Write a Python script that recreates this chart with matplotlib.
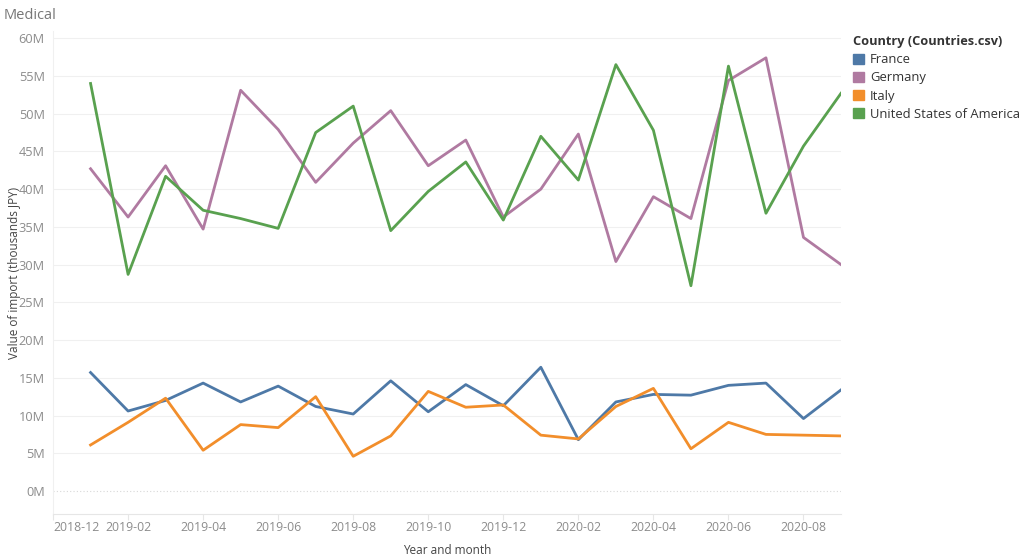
import matplotlib.pyplot as plt
from matplotlib.patches import Patch
from matplotlib.ticker import FuncFormatter

plt.rcParams['font.family'] = ['Open Sans', 'DejaVu Sans']

# months 2019-01 .. 2020-09, index 0 is 2018-12
months = list(range(1, 22))
tick_pos = list(range(0, 21, 2))
tick_labels = ["2018-12", "2019-02", "2019-04", "2019-06", "2019-08", "2019-10",
               "2019-12", "2020-02", "2020-04", "2020-06", "2020-08"]

countries = ["France", "Germany", "Italy", "United States of America"]
colors = ["#4e79a7", "#b07aa1", "#f28e2b", "#59a14f"]

france = [15.7, 10.6, 12.0, 14.3, 11.8, 13.9, 11.2, 10.2, 14.6, 10.5, 14.1,
          11.3, 16.4, 6.8, 11.8, 12.8, 12.7, 14.0, 14.3, 9.6, 13.4]
germany = [42.7, 36.3, 43.1, 34.7, 53.1, 47.9, 40.9, 46.1, 50.4, 43.1, 46.5,
           36.3, 40.0, 47.3, 30.4, 39.0, 36.1, 54.4, 57.4, 33.6, 30.0]
italy = [6.1, 9.1, 12.3, 5.4, 8.8, 8.4, 12.5, 4.6, 7.3, 13.2, 11.1,
         11.4, 7.4, 6.9, 11.2, 13.6, 5.6, 9.1, 7.5, 7.4, 7.3]
usa = [54.0, 28.7, 41.7, 37.2, 36.1, 34.8, 47.5, 51.0, 34.5, 39.7, 43.6,
       35.9, 47.0, 41.2, 56.5, 47.8, 27.2, 56.3, 36.8, 45.7, 52.7]

series = [france, germany, italy, usa]

fig = plt.figure(figsize=(10.24, 5.6), dpi=100)
ax = fig.add_axes([0.0518, 0.0821, 0.7695, 0.8625])

for vals, col in zip(series, colors):
    ax.plot(months, [v * 1e6 for v in vals], color=col, linewidth=2, zorder=3)

ax.set_xlim(0, 21)
ax.set_ylim(-3.05e6, 60.95e6)
ax.set_yticks([i * 5e6 for i in range(13)])
ax.yaxis.set_major_formatter(FuncFormatter(lambda v, p: f"{v / 1e6:.0f}M"))
ax.set_xticks(tick_pos)
ax.set_xticklabels(tick_labels)
ax.get_xticklabels()[0].set_ha('left')

for v in range(1, 13):
    ax.axhline(v * 5e6, color="#f0f0f0", linewidth=0.8, zorder=1)
ax.axhline(0, color="#d8d8d8", linewidth=0.8, linestyle=(0, (1, 2)), zorder=1)

for s in ["top", "right"]:
    ax.spines[s].set_visible(False)
ax.spines["left"].set_color("#f0f0f0")
ax.spines["bottom"].set_color("#e6e6e6")
ax.tick_params(axis="y", length=0, labelsize=9.2, labelcolor="#8c8c8c", pad=6)
ax.tick_params(axis="x", length=4, color="#e6e6e6", labelsize=8.8, labelcolor="#8c8c8c", pad=1)

ax.set_ylabel("Value of import (thousands JPY)", fontsize=8.5, color="#444444")
ax.yaxis.set_label_coords(-0.041, 0.5)
ax.set_xlabel("Year and month", fontsize=8.5, color="#444444")
ax.xaxis.set_label_coords(0.5, -0.062)

fig.text(0.004, 0.985, "Medical", fontsize=10.5, color="#777777", va="top", ha="left")

handles = [Patch(facecolor=c, edgecolor=c) for c in colors]
leg = fig.legend(handles, countries, loc="upper left", bbox_to_anchor=(0.828, 0.947),
                 frameon=False, fontsize=9.4, title="Country (Countries.csv)",
                 handlelength=0.8, handleheight=0.8, handletextpad=0.5,
                 labelspacing=0.4, borderaxespad=0, alignment="left")
leg.get_title().set_fontweight("bold")
leg.get_title().set_fontsize(9.2)
leg.get_title().set_color("#333333")
for t in leg.get_texts():
    t.set_color("#333333")

fig.savefig("out.png", dpi=100)
